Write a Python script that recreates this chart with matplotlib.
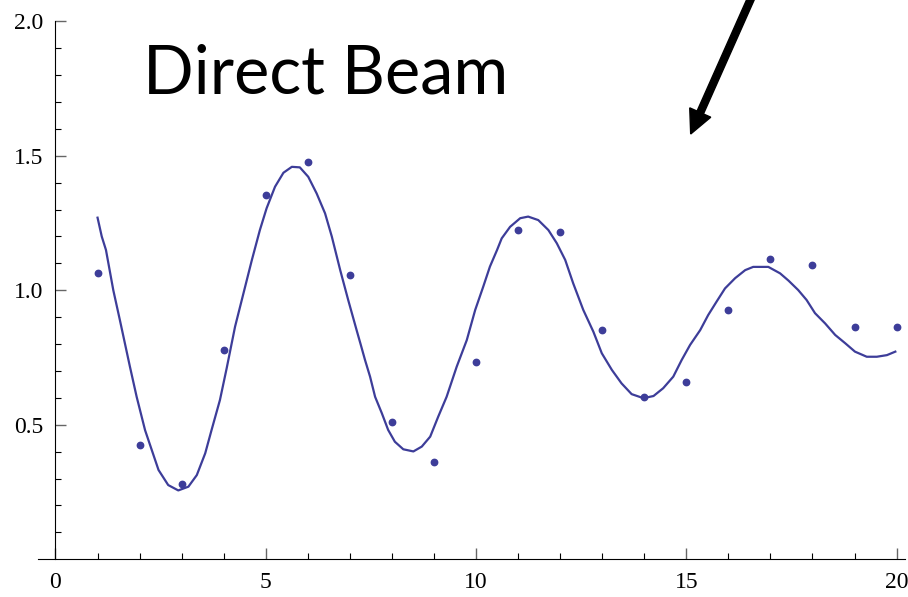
import matplotlib
matplotlib.use("Agg")
import matplotlib.pyplot as plt
from matplotlib.patches import FancyArrow

# measured intensities at each step
meas_x = list(range(1, 21))
meas_y = [1.065, 0.425, 0.279, 0.778, 1.354, 1.476, 1.057, 0.509, 0.361, 0.733,
          1.224, 1.216, 0.852, 0.604, 0.658, 0.927, 1.115, 1.094, 0.862, 0.862]

# fitted curve
fit_x = [1.00, 1.10, 1.20, 1.375, 1.53, 1.77, 1.93, 2.13, 2.29, 2.45, 2.68, 2.92,
         3.16, 3.36, 3.56, 3.71, 3.91, 4.07, 4.27, 4.47, 4.67, 4.86, 5.02, 5.22,
         5.42, 5.62, 5.81, 6.01, 6.21, 6.41, 6.57, 6.77, 6.96, 7.16, 7.26, 7.36,
         7.48, 7.60, 7.76, 7.91, 8.07, 8.27, 8.51, 8.71, 8.91, 9.10, 9.30, 9.54,
         9.78, 9.98, 10.17, 10.33, 10.50, 10.61, 10.81, 11.05, 11.24, 11.48, 11.72,
         11.92, 12.12, 12.31, 12.55, 12.79, 12.99, 13.23, 13.46, 13.70, 13.98,
         14.22, 14.45, 14.69, 14.89, 15.09, 15.33, 15.52, 15.72, 15.92, 16.16,
         16.40, 16.59, 16.95, 17.23, 17.43, 17.66, 17.86, 18.06, 18.30, 18.54,
         18.78, 19.01, 19.29, 19.53, 19.77, 19.97]
fit_y = [1.27, 1.20, 1.15, 1.00, 0.89, 0.716, 0.604, 0.48, 0.406, 0.332, 0.276, 0.256,
         0.27, 0.313, 0.394, 0.48, 0.592, 0.71, 0.865, 0.989, 1.113, 1.224, 1.305, 1.385,
         1.437, 1.459, 1.457, 1.422, 1.36, 1.286, 1.20, 1.075, 0.964, 0.852, 0.797, 0.741,
         0.679, 0.604, 0.543, 0.481, 0.437, 0.409, 0.401, 0.419, 0.456, 0.53, 0.604, 0.716,
         0.815, 0.927, 1.013, 1.088, 1.15, 1.193, 1.236, 1.268, 1.274, 1.261, 1.224,
         1.175, 1.113, 1.026, 0.927, 0.846, 0.766, 0.704, 0.654, 0.614, 0.599,
         0.607, 0.636, 0.679, 0.741, 0.797, 0.852, 0.908, 0.958, 1.007, 1.045,
         1.075, 1.087, 1.087, 1.063, 1.036, 1.001, 0.964, 0.915, 0.877, 0.834,
         0.803, 0.772, 0.753, 0.753, 0.759, 0.772]

xticks = [0, 5, 10, 15, 20]
yticks = [0.5, 1.0, 1.5, 2.0]
ytick_labels = ["0.5", "1.0", "1.5", "2.0"]

color = "#3d3d99"

fig = plt.figure(figsize=(9.08, 5.97), dpi=100)
ax = fig.add_axes([38 / 908, 37.7 / 597, 867 / 908, 538 / 597])

ax.plot(fit_x, fit_y, color=color, lw=1.6)
ax.plot(meas_x, meas_y, "o", color=color, ms=4.6, mec=color)

ax.set_xlim(-0.416, 20.2)
ax.set_ylim(0, 2.0)

ax.spines["top"].set_visible(False)
ax.spines["right"].set_visible(False)
ax.spines["left"].set_position(("data", 0))

ax.set_xticks(xticks)
ax.set_xticks(range(0, 21), minor=True)
ax.set_yticks(yticks)
ax.set_yticklabels(ytick_labels)
ax.set_yticks([i / 10 for i in range(1, 21)], minor=True)

for lbl in ax.get_xticklabels() + ax.get_yticklabels():
    lbl.set_family("Liberation Serif")
    lbl.set_fontsize(17)

ax.tick_params(which="major", direction="in", length=8, width=1.0,
               color="#666666", pad=9)
ax.tick_params(which="minor", direction="in", length=4.5, width=0.8, color="black")

fig.text(143 / 908, 1 - 94 / 597, "Direct Beam", family="Lato", fontsize=48,
         va="baseline", ha="left")

arrow = FancyArrow(7.57, 6.12, -0.663, -1.49, width=0.07, head_width=0.23,
                   head_length=0.235, length_includes_head=True,
                   color="black", transform=fig.dpi_scale_trans)
fig.add_artist(arrow)

fig.savefig("out.png", dpi=100)
